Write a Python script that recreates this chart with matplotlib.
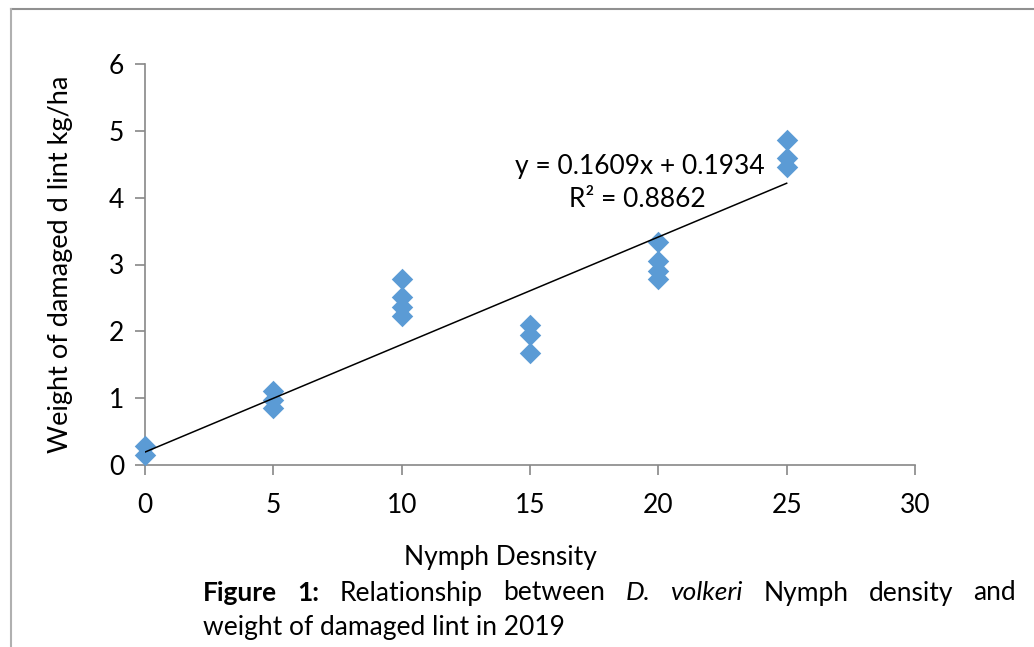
import numpy as np
import matplotlib.pyplot as plt
from matplotlib.lines import Line2D

# nymph density vs weight of damaged lint
density = [0, 0, 5, 5, 5, 10, 10, 10, 10, 15, 15, 15, 20, 20, 20, 20, 25, 25, 25]
weight = [0.28, 0.15, 1.10, 0.97, 0.85, 2.78, 2.51, 2.36, 2.23,
          2.09, 1.95, 1.68, 3.33, 3.05, 2.91, 2.79, 4.86, 4.60, 4.46]

slope = 0.1609
intercept = 0.1934
r2 = 0.8862

xticks = [0, 5, 10, 15, 20, 25, 30]
yticks = [0, 1, 2, 3, 4, 5, 6]

plt.rcParams['font.family'] = ['Lato', 'DejaVu Sans']

fig = plt.figure(figsize=(10.34, 6.47), dpi=100)
ax = fig.add_axes([145/1034, 1 - 465/647, 770/1034, 401/647])

ax.scatter(density, weight, marker='D', s=120, color='#5B9BD5', zorder=3,
           linewidths=0, clip_on=False)

xl = np.array([0, 25])
ax.plot(xl, slope * xl + intercept, color='black', lw=1.1, zorder=4)

ax.text(19.3, 4.46, 'y = %.4fx + %.4f' % (slope, intercept),
        fontsize=19, ha='center', va='center')
ax.text(19.2, 3.97, 'R² = %.4f' % r2, fontsize=19, ha='center', va='center')

ax.set_xlim(0, 30)
ax.set_ylim(0, 6)
ax.set_xticks(xticks)
ax.set_yticks(yticks)
ax.tick_params(labelsize=19, color='#888888', length=7, width=1.2, pad=8)
ax.tick_params(axis='x', pad=13)
for s in ['top', 'right']:
    ax.spines[s].set_visible(False)
for s in ['left', 'bottom']:
    ax.spines[s].set_color('#888888')
    ax.spines[s].set_linewidth(1.2)
ax.set_ylabel('Weight of damaged d lint kg/ha', fontsize=19.5, labelpad=26)

# x axis title + caption below the plot
fs = 19
fig.text(500/1034, 1 - 557/647, 'Nymph Desnsity', fontsize=fs, ha='center', va='center')

# justified first caption line between x=203 and x=1016 px
words = [('Figure', 'bold', 'normal'), ('1:', 'bold', 'normal'),
         ('Relationship', 'normal', 'normal'), ('between', 'normal', 'normal'),
         ('D.', 'normal', 'italic'), ('volkeri', 'normal', 'italic'),
         ('Nymph', 'normal', 'normal'), ('density', 'normal', 'normal'),
         ('and', 'normal', 'normal')]
renderer = fig.canvas.get_renderer()
texts = []
for w, fw, st in words:
    t = fig.text(0, 1 - 593/647, w, fontsize=fs, fontweight=fw, style=st, ha='left', va='center')
    texts.append(t)
widths = [t.get_window_extent(renderer).width for t in texts]
x0, x1 = 203, 1016
gap = (x1 - x0 - sum(widths)) / (len(words) - 1)
xp = x0
for t, wd in zip(texts, widths):
    t.set_x(xp / 1034)
    xp += wd + gap
fig.text(203/1034, 1 - 627/647, 'weight of damaged lint in 2019', fontsize=fs, ha='left', va='center')

# frame lines of the chart box
fig.add_artist(Line2D([11/1034, 1], [1 - 9/647, 1 - 9/647], color='#909090', lw=1.5))
fig.add_artist(Line2D([11/1034, 11/1034], [0, 1 - 9/647], color='#b0b0b0', lw=1.5))

fig.savefig('out.png', dpi=100)
